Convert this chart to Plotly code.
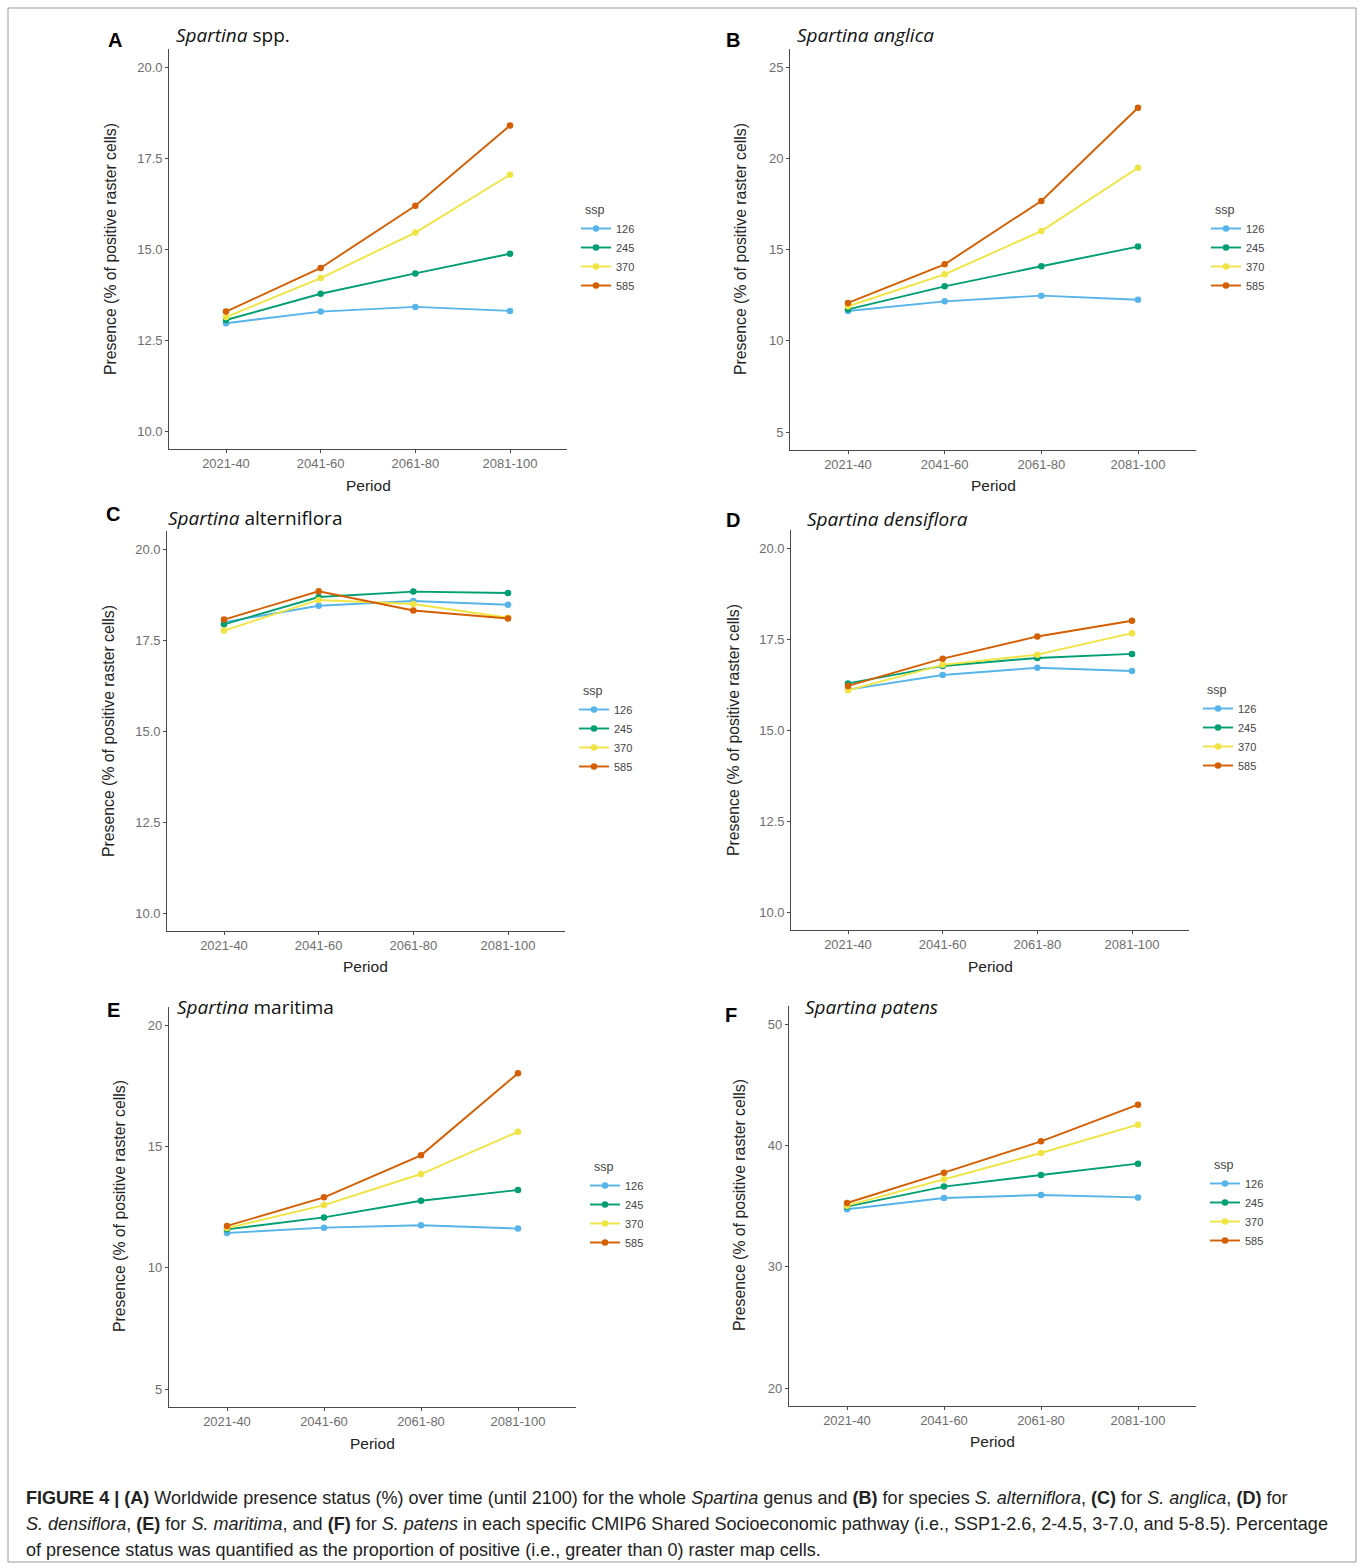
import plotly.graph_objects as go

W, H = 1362, 1566

periods = ["2021-40", "2041-60", "2061-80", "2081-100"]
ssp_labels = ["126", "245", "370", "585"]
colors = ["#56B4E9", "#009E73", "#F0E442", "#D55E00"]

# Panel A - Spartina spp.
spp_126 = [12.96, 13.28, 13.41, 13.30]
spp_245 = [13.05, 13.77, 14.33, 14.87]
spp_370 = [13.13, 14.20, 15.45, 17.04]
spp_585 = [13.28, 14.48, 16.19, 18.39]
# Panel B - Spartina anglica
ang_126 = [11.63, 12.16, 12.47, 12.25]
ang_245 = [11.72, 12.98, 14.08, 15.16]
ang_370 = [11.89, 13.64, 16.01, 19.48]
ang_585 = [12.07, 14.19, 17.66, 22.77]
# Panel C - Spartina alterniflora
alt_126 = [17.99, 18.44, 18.57, 18.47]
alt_245 = [17.93, 18.68, 18.83, 18.79]
alt_370 = [17.76, 18.60, 18.49, 18.11]
alt_585 = [18.06, 18.84, 18.31, 18.09]
# Panel D - Spartina densiflora
den_126 = [16.11, 16.51, 16.71, 16.62]
den_245 = [16.28, 16.76, 16.98, 17.09]
den_370 = [16.09, 16.79, 17.07, 17.66]
den_585 = [16.21, 16.96, 17.57, 18.00]
# Panel E - Spartina maritima
mar_126 = [11.43, 11.65, 11.75, 11.61]
mar_245 = [11.58, 12.07, 12.76, 13.20]
mar_370 = [11.63, 12.58, 13.86, 15.60]
mar_585 = [11.72, 12.90, 14.63, 18.01]
# Panel F - Spartina patens
pat_126 = [34.73, 35.66, 35.91, 35.71]
pat_245 = [34.95, 36.60, 37.55, 38.49]
pat_370 = [35.03, 37.20, 39.37, 41.70]
pat_585 = [35.25, 37.75, 40.33, 43.35]

ticks_A = [10, 12.5, 15, 17.5, 20]
ticks_B = [5, 10, 15, 20, 25]
ticks_E = [5, 10, 15, 20]
ticks_F = [20, 30, 40, 50]

panels = [
    dict(letter="A", title="<i>Spartina</i> spp.", series=[spp_126, spp_245, spp_370, spp_585],
         ticks=ticks_A, fmt=".1f", yr=[9.5, 20.5],
         box=(169.2, 566.8, 48.8, 449.2), letter_xy=(115, 40), title_xy=(174, 35),
         ytitle_xy=(110, 249), xtitle_xy=(368, 485), leg_xy=(585, 210)),
    dict(letter="B", title="<i>Spartina anglica</i>", series=[ang_126, ang_245, ang_370, ang_585],
         ticks=ticks_B, fmt="d", yr=[4, 26],
         box=(790, 1196, 48.75, 450.25), letter_xy=(733, 40), title_xy=(795, 35),
         ytitle_xy=(740, 249), xtitle_xy=(993, 486), leg_xy=(1215, 210)),
    dict(letter="C", title="<i>Spartina</i> alterniflora", series=[alt_126, alt_245, alt_370, alt_585],
         ticks=ticks_A, fmt=".1f", yr=[9.5, 20.5],
         box=(167.2, 564.8, 530.8, 931.2), letter_xy=(113, 514), title_xy=(166, 518),
         ytitle_xy=(108, 731), xtitle_xy=(366, 967), leg_xy=(583, 691)),
    dict(letter="D", title="<i>Spartina densiflora</i>", series=[den_126, den_245, den_370, den_585],
         ticks=ticks_A, fmt=".1f", yr=[9.5, 20.5],
         box=(791.2, 1188.8, 529.8, 930.2), letter_xy=(733, 520), title_xy=(805, 519),
         ytitle_xy=(733, 730), xtitle_xy=(990, 966), leg_xy=(1207, 690)),
    dict(letter="E", title="<i>Spartina</i> maritima", series=[mar_126, mar_245, mar_370, mar_585],
         ticks=ticks_E, fmt="d", yr=[4.25, 20.75],
         box=(168.8, 576.2, 1006.8, 1407.2), letter_xy=(113, 1010), title_xy=(175, 1007),
         ytitle_xy=(119, 1206), xtitle_xy=(372, 1443), leg_xy=(594, 1167)),
    dict(letter="F", title="<i>Spartina patens</i>", series=[pat_126, pat_245, pat_370, pat_585],
         ticks=ticks_F, fmt="d", yr=[18.5, 51.5],
         box=(788.8, 1196.2, 1005.8, 1406.2), letter_xy=(731, 1015), title_xy=(803, 1007),
         ytitle_xy=(739, 1205), xtitle_xy=(992, 1441), leg_xy=(1214, 1165)),
]

def px(x):
    return x / W

def py(y):
    return 1 - y / H

fig = go.Figure()
annotations = []
layout = {}
AX_COLOR = "#4a4a4a"
TICK_FONT = dict(family="Liberation Sans, Arial, sans-serif", size=13, color="#6e6e6e")

for i, p in enumerate(panels):
    n = "" if i == 0 else str(i + 1)
    xa, ya = "x" + n, "y" + n
    leg = "legend" + n
    x0, x1, y0, y1 = p["box"]
    for k, (lab, vals) in enumerate(zip(ssp_labels, p["series"])):
        fig.add_trace(go.Scatter(
            x=periods, y=vals, mode="lines+markers", name=lab,
            line=dict(color=colors[k], width=1.9),
            marker=dict(color=colors[k], size=6.5),
            xaxis=xa, yaxis=ya, legend=leg, showlegend=True,
        ))
    layout["xaxis" + n] = dict(
        domain=[px(x0), px(x1)], anchor=ya, type="category",
        categoryorder="array", categoryarray=periods, range=[-0.6, 3.6],
        showline=True, linecolor=AX_COLOR, linewidth=1, ticks="outside",
        ticklen=3, tickcolor=AX_COLOR, showgrid=False, zeroline=False,
        tickfont=TICK_FONT, fixedrange=True, ticklabelstandoff=-1,
    )
    layout["yaxis" + n] = dict(
        domain=[py(y1), py(y0)], anchor=xa, range=p["yr"],
        tickvals=p["ticks"], tickformat=p["fmt"],
        showline=True, linecolor=AX_COLOR, linewidth=1, ticks="outside",
        ticklen=3, tickcolor=AX_COLOR, showgrid=False, zeroline=False,
        tickfont=TICK_FONT, fixedrange=True,
    )
    lx, ly = p["leg_xy"]
    layout[leg] = dict(
        x=px(lx - 9), y=py(ly + 4), xanchor="left", yanchor="top",
        bgcolor="rgba(0,0,0,0)", itemwidth=30, tracegroupgap=0,
        font=dict(family="Liberation Sans, Arial, sans-serif", size=11, color="#444"),
    )
    annotations.append(dict(
        x=px(lx - 2), y=py(ly), xref="paper", yref="paper", xanchor="left", yanchor="middle",
        text="ssp", showarrow=False,
        font=dict(family="Liberation Sans, Arial, sans-serif", size=12.5, color="#444"),
    ))
    annotations.append(dict(
        x=px(p["letter_xy"][0]), y=py(p["letter_xy"][1]), xref="paper", yref="paper",
        xanchor="center", yanchor="middle", text="<b>" + p["letter"] + "</b>", showarrow=False,
        font=dict(family="Liberation Sans, Arial, sans-serif", size=20, color="#000"),
    ))
    annotations.append(dict(
        x=px(p["title_xy"][0]), y=py(p["title_xy"][1]), xref="paper", yref="paper",
        xanchor="left", yanchor="middle", text=p["title"], showarrow=False,
        font=dict(family="Open Sans, Noto Sans, sans-serif", size=19, color="#111"),
    ))
    annotations.append(dict(
        x=px(p["ytitle_xy"][0]), y=py(p["ytitle_xy"][1]), xref="paper", yref="paper",
        xanchor="center", yanchor="middle", text="Presence (% of positive raster cells)",
        textangle=-90, showarrow=False,
        font=dict(family="Liberation Sans, Arial, sans-serif", size=15.8, color="#222"),
    ))
    annotations.append(dict(
        x=px(p["xtitle_xy"][0]), y=py(p["xtitle_xy"][1]), xref="paper", yref="paper",
        xanchor="center", yanchor="middle", text="Period", showarrow=False,
        font=dict(family="Liberation Sans, Arial, sans-serif", size=15.5, color="#222"),
    ))

caption_lines = [
    "<b>FIGURE 4 | (A)</b> Worldwide presence status (%) over time (until 2100) for the whole <i>Spartina</i> genus and <b>(B)</b> for species <i>S. alterniflora</i>, <b>(C)</b> for <i>S. anglica</i>, <b>(D)</b> for",
    "<i>S. densiflora</i>, <b>(E)</b> for <i>S. maritima</i>, and <b>(F)</b> for <i>S. patens</i> in each specific CMIP6 Shared Socioeconomic pathway (i.e., SSP1-2.6, 2-4.5, 3-7.0, and 5-8.5). Percentage",
    "of presence status was quantified as the proportion of positive (i.e., greater than 0) raster map cells.",
]
caption_y = [1498, 1524, 1550]
for t, cy in zip(caption_lines, caption_y):
    annotations.append(dict(
        x=px(24), y=py(cy), xref="paper", yref="paper", xanchor="left", yanchor="middle",
        text=t, showarrow=False,
        font=dict(family="Liberation Sans, Arial, sans-serif", size=18.05, color="#222"),
    ))

fig.update_layout(
    width=W, height=H, margin=dict(l=0, r=0, t=0, b=0),
    paper_bgcolor="white", plot_bgcolor="white",
    annotations=annotations,
    shapes=[dict(type="rect", xref="paper", yref="paper", x0=px(8), x1=px(1356),
                 y0=py(1562), y1=py(8), line=dict(color="#9a9a9a", width=1))],
    **layout,
)

fig.write_html("out.html", config={"displayModeBar": False},
               post_script="document.body.style.margin='0';document.body.style.overflow='hidden';")
